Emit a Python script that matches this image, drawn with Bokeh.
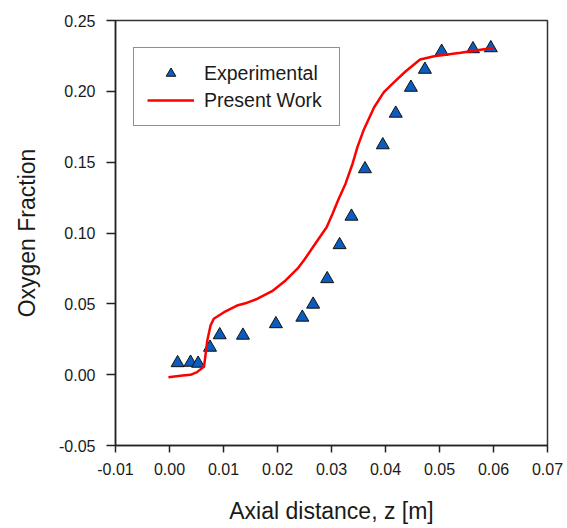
from bokeh.plotting import figure
from bokeh.models import Range1d, FixedTicker, PrintfTickFormatter, Legend, LegendItem
from bokeh.embed import file_html
from bokeh.resources import INLINE

# Experimental data (triangles)
exp_z = [0.0015, 0.0039, 0.0053, 0.0075, 0.0093, 0.0136, 0.0197, 0.0246, 0.0266, 0.0292,
         0.0315, 0.0337, 0.0362, 0.0395, 0.0419, 0.0447, 0.0473, 0.0504, 0.0562, 0.0595]
exp_o2 = [0.0083, 0.0086, 0.0079, 0.0192, 0.0280, 0.0277, 0.0358, 0.0404, 0.0496, 0.0676,
          0.0916, 0.1117, 0.1452, 0.1621, 0.1844, 0.2027, 0.2154, 0.2281, 0.2299, 0.2306]

# Present work (red line)
pw_z = [-0.0002, 0.0024, 0.0039, 0.0051, 0.0064, 0.0067, 0.0070, 0.0076, 0.0082, 0.0101,
        0.0125, 0.0144, 0.0163, 0.0190, 0.0215, 0.0237, 0.0250, 0.0274, 0.0291, 0.0302,
        0.0312, 0.0326, 0.0339, 0.0348, 0.0360, 0.0379, 0.0397, 0.0416, 0.0437, 0.0464,
        0.0490, 0.0539, 0.0601]
pw_o2 = [-0.0018, -0.0006, -0.0001, 0.0018, 0.0058, 0.0148, 0.0241, 0.0347, 0.0395, 0.0441,
         0.0488, 0.0508, 0.0536, 0.0589, 0.0665, 0.0748, 0.0813, 0.0947, 0.1041, 0.1136,
         0.1230, 0.1348, 0.1489, 0.1606, 0.1731, 0.1888, 0.1994, 0.2065, 0.2140, 0.2225,
         0.2248, 0.2272, 0.2307]

x_ticks = [-0.01, 0.0, 0.01, 0.02, 0.03, 0.04, 0.05, 0.06, 0.07]
y_ticks = [-0.05, 0.0, 0.05, 0.10, 0.15, 0.20, 0.25]

series_labels = ["Experimental", "Present Work"]
x_title = "Axial distance, z [m]"
y_title = "Oxygen Fraction"

FONT = "Liberation Sans"

p = figure(frame_width=432, frame_height=425,
           min_border_left=115, min_border_right=20, min_border_top=20, min_border_bottom=83,
           x_range=Range1d(-0.01, 0.07), y_range=Range1d(-0.05, 0.25),
           output_backend="svg", toolbar_location=None)

p.background_fill_color = "white"
p.border_fill_color = "white"
p.outline_line_color = "#333333"
p.outline_line_width = 1.5
p.xgrid.visible = False
p.ygrid.visible = False

for ax in (p.xaxis[0], p.yaxis[0]):
    ax.axis_line_color = "#222222"
    ax.axis_line_width = 1.5
    ax.major_tick_line_color = "#222222"
    ax.major_tick_line_width = 1.5
    ax.major_tick_in = 0
    ax.minor_tick_line_color = None
    ax.major_label_text_font = FONT
    ax.major_label_text_font_size = "16px"
    ax.major_label_text_color = "#1a1a1a"
    ax.axis_label_text_font = FONT
    ax.axis_label_text_font_size = "23px"
    ax.axis_label_text_font_style = "normal"
    ax.axis_label_text_color = "#1a1a1a"
    ax.formatter = PrintfTickFormatter(format="%.2f")

p.xaxis.ticker = FixedTicker(ticks=x_ticks)
p.yaxis.ticker = FixedTicker(ticks=y_ticks)
p.xaxis.major_tick_out = 7
p.yaxis.major_tick_out = 9
p.xaxis.major_label_standoff = 10
p.yaxis.major_label_standoff = 11
p.xaxis.axis_label = x_title
p.yaxis.axis_label = y_title
p.xaxis.axis_label_standoff = 20
p.yaxis.axis_label_standoff = 16

sc = p.scatter(exp_z, exp_o2, marker="triangle", size=13,
               fill_color="#0b5cbf", line_color="#111111", line_width=1)
ln = p.line(pw_z, pw_o2, line_color="#ff0000", line_width=2.5)

legend = Legend(items=[LegendItem(label=series_labels[0], renderers=[sc]),
                       LegendItem(label=series_labels[1], renderers=[ln])],
                location=(18, 319), margin=0, padding=13, spacing=3,
                glyph_width=47, glyph_height=24, label_height=24, label_width=122,
                label_standoff=10, label_text_font=FONT, label_text_font_size="19.5px",
                label_text_color="#1a1a1a",
                border_line_color="#222222", border_line_width=1.5,
                background_fill_color="white", background_fill_alpha=1.0)
p.add_layout(legend)

open("out.html", "w").write(file_html(p, INLINE))
